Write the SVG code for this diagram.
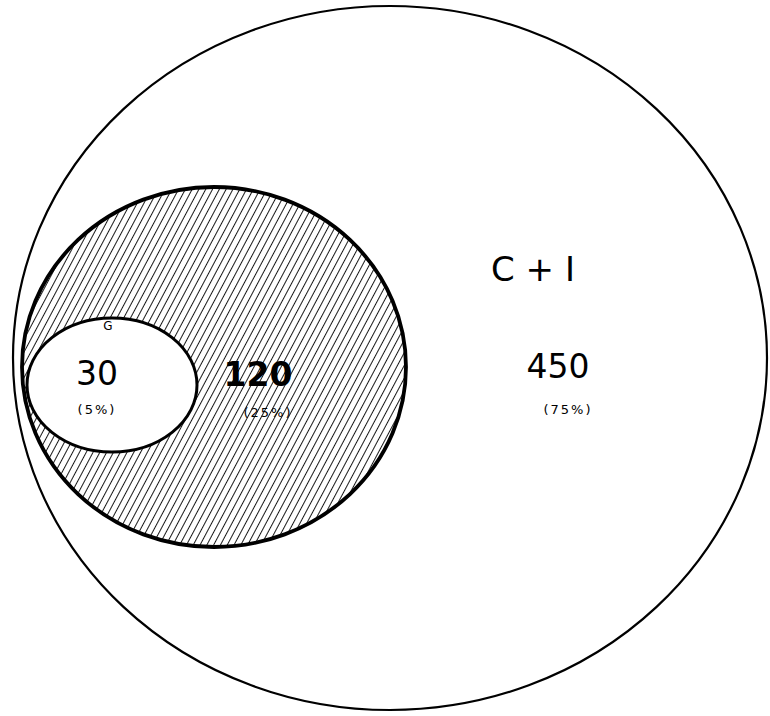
<svg xmlns="http://www.w3.org/2000/svg" width="770" height="716" viewBox="0 0 770 716">
<style>
.lbl{font-family:"DejaVu Sans","Liberation Sans",sans-serif;fill:#000;text-anchor:middle}
.big{font-size:33px}
.pct{font-size:13px;letter-spacing:2px}
</style>
<defs>
<pattern id="hatch" patternUnits="userSpaceOnUse" width="6" height="6" patternTransform="rotate(28)">
<rect width="6" height="6" fill="#fff"/>
<line x1="0" y1="0" x2="0" y2="6" stroke="#000" stroke-width="1.8"/>
</pattern>
</defs>
<rect width="770" height="716" fill="#fff"/>
<g id="outer">
<ellipse cx="390" cy="358" rx="377" ry="352" fill="#fff" stroke="#000" stroke-width="2.2"/>
<text class="lbl" x="533" y="281" style="font-size:34px">C + I</text>
<text class="lbl big" x="558" y="378">450</text>
<text class="lbl pct" x="568" y="414">(75%)</text>
</g>
<g id="middle">
<ellipse cx="214" cy="367" rx="192" ry="180" fill="url(#hatch)" stroke="#000" stroke-width="3.8"/>
<text class="lbl big" x="258" y="386" style="font-weight:bold">120</text>
<text class="lbl pct" x="268" y="417">(25%)</text>
</g>
<g id="inner">
<ellipse cx="112" cy="385" rx="85" ry="67" fill="#fff" stroke="#000" stroke-width="3"/>
<text class="lbl" x="108" y="330" style="font-size:12px">G</text>
<text class="lbl big" x="97" y="385">30</text>
<text class="lbl pct" x="97" y="414">(5%)</text>
</g>
</svg>
